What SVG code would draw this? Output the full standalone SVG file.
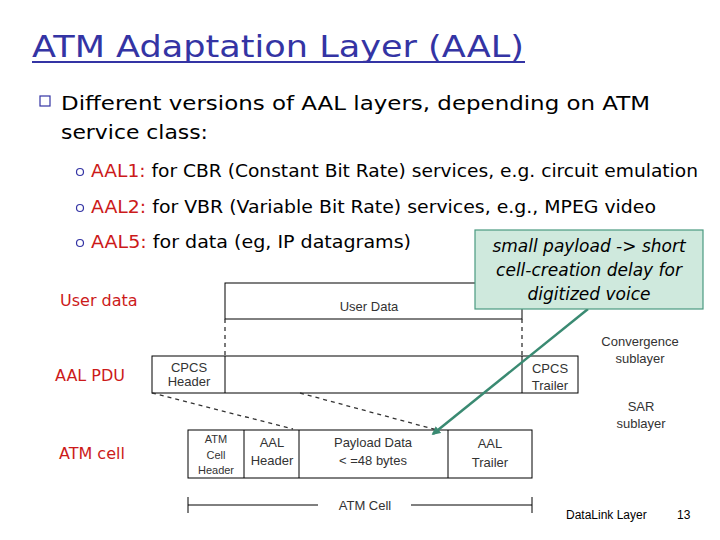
<svg xmlns="http://www.w3.org/2000/svg" width="720" height="540" viewBox="0 0 720 540">
<defs>
<marker id="ah" viewBox="0 0 10 10" refX="8" refY="5" markerWidth="3.5" markerHeight="3.5" orient="auto"><path d="M0,0 L10,5 L0,10 z" fill="#3a8a72"/></marker>
<style>
.title{font-family:"DejaVu Sans",sans-serif;font-size:30px;fill:#3434a4;}
.body{font-family:"DejaVu Sans",sans-serif;font-size:20px;fill:#000;}
.sub{font-family:"DejaVu Sans",sans-serif;font-size:17px;fill:#000;}
.red{fill:#cc1a1a;}
.lab{font-family:"DejaVu Sans",sans-serif;font-size:16px;fill:#cc1a1a;}
.dg{font-family:"Liberation Sans",sans-serif;font-size:13px;fill:#333;text-anchor:middle;}
.dgs{font-family:"Liberation Sans",sans-serif;font-size:11px;fill:#333;text-anchor:middle;}
.box{fill:none;stroke:#000;stroke-width:1;}
.dash{fill:none;stroke:#333;stroke-width:1.3;stroke-dasharray:4,4;}
.call{font-family:"DejaVu Sans",sans-serif;font-size:17px;font-style:italic;fill:#000;text-anchor:middle;}
.foot{font-family:"Liberation Sans",sans-serif;font-size:12px;fill:#000;}
</style>
</defs>
<rect width="720" height="540" fill="#fff"/>
<g id="title">
<text class="title" x="32" y="57" textLength="492" lengthAdjust="spacingAndGlyphs">ATM Adaptation Layer (AAL)</text>
<line x1="32" y1="62" x2="525" y2="62" stroke="#3434a4" stroke-width="2"/>
</g>
<g id="bullets">
<rect x="40" y="96" width="10" height="10" fill="none" stroke="#3434a4" stroke-width="1.2"/>
<text class="body" x="61" y="110" textLength="589" lengthAdjust="spacingAndGlyphs">Different versions of AAL layers, depending on ATM</text>
<text class="body" x="61" y="139" textLength="147" lengthAdjust="spacingAndGlyphs">service class:</text>
<circle cx="80" cy="172" r="3.5" fill="none" stroke="#3434a4" stroke-width="1.2"/>
<text class="sub" x="91" y="177" textLength="607" lengthAdjust="spacingAndGlyphs"><tspan class="red">AAL1:</tspan> for CBR (Constant Bit Rate) services, e.g. circuit emulation</text>
<circle cx="80" cy="208" r="3.5" fill="none" stroke="#3434a4" stroke-width="1.2"/>
<text class="sub" x="91" y="213" textLength="565" lengthAdjust="spacingAndGlyphs"><tspan class="red">AAL2:</tspan> for VBR (Variable Bit Rate) services, e.g., MPEG video</text>
<circle cx="80" cy="243" r="3.5" fill="none" stroke="#3434a4" stroke-width="1.2"/>
<text class="sub" x="91" y="248" textLength="320" lengthAdjust="spacingAndGlyphs"><tspan class="red">AAL5:</tspan> for data (eg, IP datagrams)</text>
</g>
<g id="row-labels">
<text class="lab" x="60" y="306">User data</text>
<text class="lab" x="55" y="381">AAL PDU</text>
<text class="lab" x="59" y="459">ATM cell</text>
</g>
<g id="user-data">
<rect class="box" x="225" y="283" width="297" height="36"/>
<text class="dg" x="369" y="311">User Data</text>
</g>
<g id="aal-pdu">
<rect class="box" x="152" y="356" width="426" height="37"/>
<line class="box" x1="225" y1="356" x2="225" y2="393"/>
<line class="box" x1="522" y1="356" x2="522" y2="393"/>
<text class="dg" x="189" y="372">CPCS</text>
<text class="dg" x="189" y="386">Header</text>
<text class="dg" x="550" y="373">CPCS</text>
<text class="dg" x="550" y="390">Trailer</text>
</g>
<g id="atm-cell">
<rect class="box" x="188" y="430" width="344" height="48"/>
<line class="box" x1="244" y1="430" x2="244" y2="478"/>
<line class="box" x1="299" y1="430" x2="299" y2="478"/>
<line class="box" x1="448" y1="430" x2="448" y2="478"/>
<text class="dgs" x="216" y="443">ATM</text>
<text class="dgs" x="216" y="459">Cell</text>
<text class="dgs" x="216" y="474">Header</text>
<text class="dg" x="272" y="447">AAL</text>
<text class="dg" x="272" y="465">Header</text>
<text class="dg" x="373" y="447">Payload Data</text>
<text class="dg" x="373" y="465">&lt; =48 bytes</text>
<text class="dg" x="490" y="448">AAL</text>
<text class="dg" x="490" y="467">Trailer</text>
</g>
<g id="atm-cell-span">
<line class="box" x1="188" y1="497" x2="188" y2="513"/>
<line class="box" x1="188" y1="505" x2="318" y2="505"/>
<text class="dg" x="365" y="510">ATM Cell</text>
<line class="box" x1="411" y1="505" x2="532" y2="505"/>
<line class="box" x1="532" y1="497" x2="532" y2="513"/>
</g>
<g id="sublayers">
<text class="dg" x="640" y="346">Convergence</text>
<text class="dg" x="640" y="363">sublayer</text>
<text class="dg" x="641" y="411">SAR</text>
<text class="dg" x="641" y="428">sublayer</text>
</g>
<g id="connectors">
<line class="dash" x1="225" y1="319" x2="225" y2="356"/>
<line class="dash" x1="522" y1="319" x2="522" y2="356"/>
<line class="dash" x1="152" y1="393" x2="293" y2="429"/>
<line class="dash" x1="300" y1="393" x2="437" y2="430"/>
<line x1="588" y1="309" x2="433" y2="434" stroke="#3a8a72" stroke-width="2.5" marker-end="url(#ah)"/>
</g>
<g id="callout">
<rect x="475" y="230" width="228" height="79" fill="#cfe9dd" stroke="#4a9a80" stroke-width="1.2"/>
<text class="call" x="589" y="252">small payload -&gt; short</text>
<text class="call" x="589" y="276">cell-creation delay for</text>
<text class="call" x="589" y="300">digitized voice</text>
</g>
<g id="footer">
<text class="foot" x="566" y="519">DataLink Layer</text>
<text class="foot" x="677" y="519">13</text>
</g>
</svg>
